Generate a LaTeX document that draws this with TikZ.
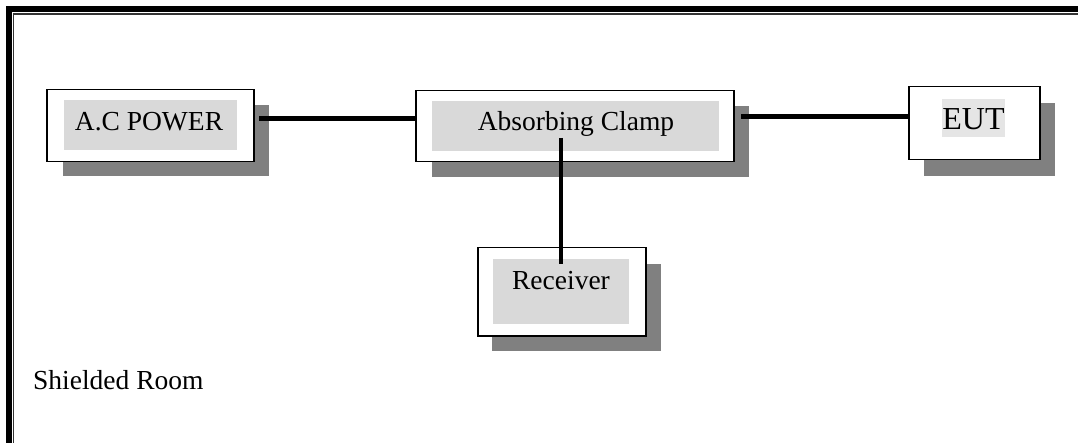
\documentclass[tikz,border=0pt]{standalone}
\usepackage{fontspec}
\setmainfont{Liberation Serif}
\definecolor{shadegray}{RGB}{128,128,128}
\definecolor{lightfill}{RGB}{217,217,217}
\definecolor{eutfill}{RGB}{229,229,229}
\begin{document}
\begin{tikzpicture}[x=1pt,y=-1pt,
  shadowbox/.style={fill=shadegray},
  outerbox/.style={draw=black, line width=1.5pt, fill=white, rectangle, inner sep=0pt, anchor=north west},
  innerbox/.style={fill=lightfill, draw=none, rectangle, inner sep=0pt, anchor=north west},
  lbl/.style={inner sep=0pt, anchor=base, font=\fontsize{27.5}{30}\selectfont},
  link/.style={line width=5pt},
  vlink/.style={line width=4.5pt}
]
\useasboundingbox (0,0) rectangle (1078,443);
% room frame
\draw[line width=6pt] (9,443) -- (9,9.5) -- (1078,9.5);
\draw[line width=1.3pt, black!80] (13.8,443) -- (13.8,14) -- (1078,14);
% shadows
\fill[shadowbox] (63,105) rectangle (269,176);
\fill[shadowbox] (432,106) rectangle (749,177);
\fill[shadowbox] (924,103) rectangle (1055,176);
\fill[shadowbox] (492,264) rectangle (661,351);
% outer boxes
\node[outerbox, minimum width=207pt, minimum height=72pt] (acp) at (46,89) {};
\node[outerbox, minimum width=318pt, minimum height=71pt] (clamp) at (415,90) {};
\node[outerbox, minimum width=131pt, minimum height=73pt] (eut) at (908,86) {};
\node[outerbox, minimum width=168pt, minimum height=88pt] (rcv) at (477,247) {};
% inner fills
\node[innerbox, minimum width=173pt, minimum height=50pt] (acpin) at (64,100) {};
\node[innerbox, minimum width=287pt, minimum height=50pt] (clampin) at (432,101) {};
\node[innerbox, fill=eutfill, minimum width=63pt, minimum height=38pt] (eutin) at (942,99) {};
\node[innerbox, minimum width=136pt, minimum height=65pt] (rcvin) at (493,259) {};
% labels
\node[lbl] (acplbl) at (149,131) {A.C POWER};
\node[lbl] (clamplbl) at (576,131) {Absorbing Clamp};
\node[lbl, font=\fontsize{32}{34}\selectfont] (eutlbl) at (973.5,129.5) {EUT};
\node[lbl] (rcvlbl) at (561,290) {Receiver};
\node[lbl, anchor=base west] (room) at (33,389) {Shielded Room};
% connectors
\coordinate (c1) at (259,119);
\coordinate (c2) at (741,117);
\coordinate (c3) at (561,138);
\coordinate (c4) at (561,264);
\draw[link] (c1) -- (clamp.west |- c1);
\draw[link] (c2) -- (eut.west |- c2);
\draw[vlink] (c3) -- (c4);
\end{tikzpicture}
\end{document}
